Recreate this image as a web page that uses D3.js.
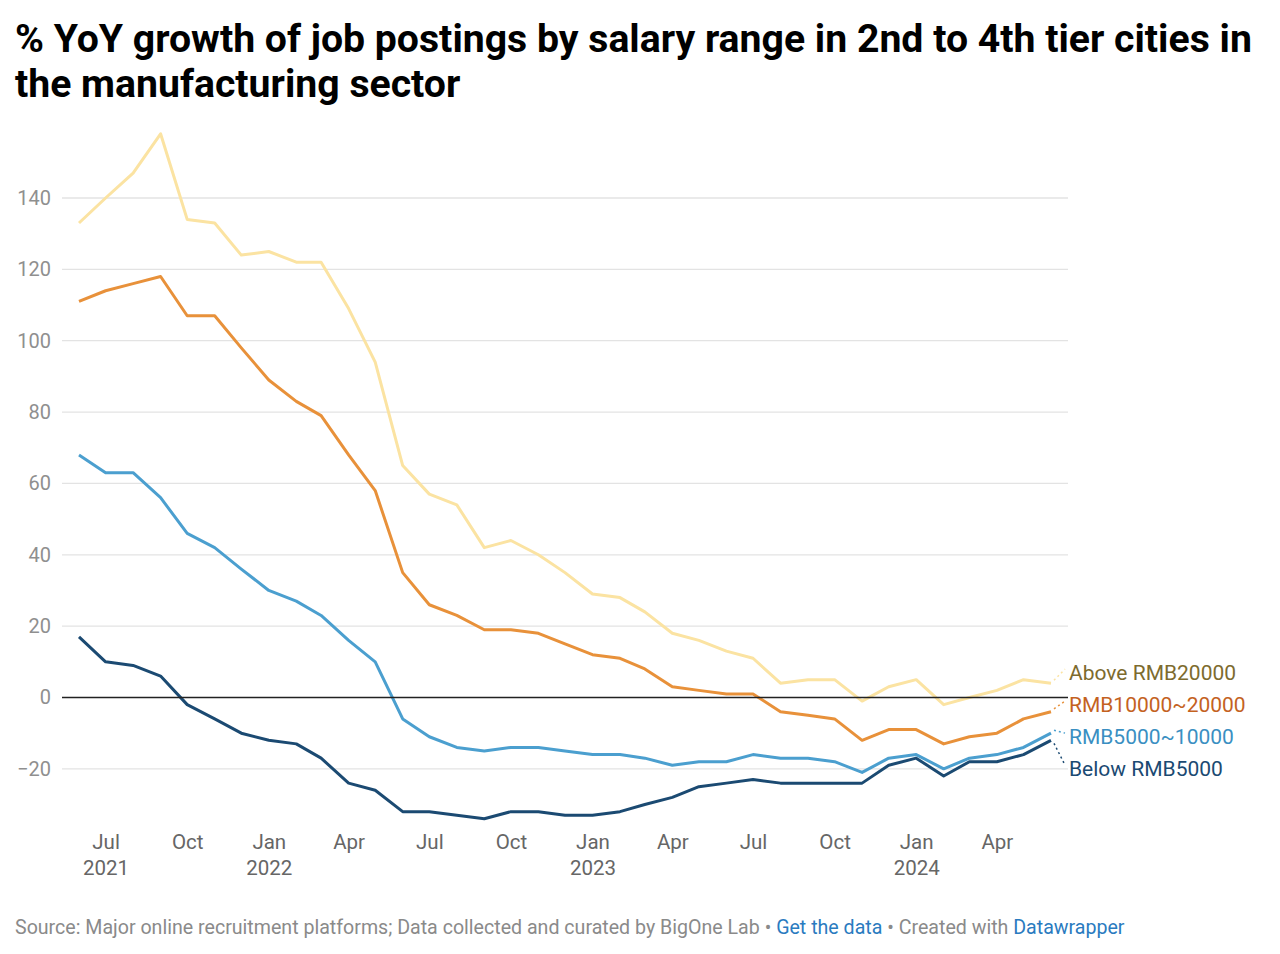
<!DOCTYPE html>
<html>
<head>
<meta charset="utf-8">
<script src="https://cdn.jsdelivr.net/npm/d3@7"></script>
<style>
body{margin:0;background:#fff;font-family:Roboto,"Noto Sans",sans-serif;}
</style>
</head>
<body>
<svg id="chart" width="1280" height="954"></svg>
<script>
// months Jun 2021 .. Jun 2024
var months = [];
for (var m = 0; m < 37; m++) months.push(new Date(2021, 5 + m, 1));

var above20000 = [133,140,147,158,134,133,124,125,122,122,109,94,65,57,54,42,44,40,35,29,28,24,18,16,13,11,4,5,5,-1,3,5,-2,0,2,5,4];
var r10000_20000 = [111,114,116,118,107,107,98,89,83,79,68,58,35,26,23,19,19,18,15,12,11,8,3,2,1,1,-4,-5,-6,-12,-9,-9,-13,-11,-10,-6,-4];
var r5000_10000 = [68,63,63,56,46,42,36,30,27,23,16,10,-6,-11,-14,-15,-14,-14,-15,-16,-16,-17,-19,-18,-18,-16,-17,-17,-18,-21,-17,-16,-20,-17,-16,-14,-10];
var below5000 = [17,10,9,6,-2,-6,-10,-12,-13,-17,-24,-26,-32,-32,-33,-34,-32,-32,-33,-33,-32,-30,-28,-25,-24,-23,-24,-24,-24,-24,-19,-17,-22,-18,-18,-16,-12];

var seriesNames = ["Above RMB20000","RMB10000~20000","RMB5000~10000","Below RMB5000"];
var seriesVals = [above20000, r10000_20000, r5000_10000, below5000];
var lineColors = ["#fbe3a2","#e8913a","#4b9fcf","#1b4a72"];
var labelColors = ["#7d6b2e","#c4621f","#3a8fc2","#1b4a72"];

var yTicks = [-20,0,20,40,60,80,100,120,140];
var xTicks = [new Date(2021,6,1),new Date(2021,9,1),new Date(2022,0,1),new Date(2022,3,1),new Date(2022,6,1),new Date(2022,9,1),
	new Date(2023,0,1),new Date(2023,3,1),new Date(2023,6,1),new Date(2023,9,1),new Date(2024,0,1),new Date(2024,3,1)];

const svg = d3.select("#chart");

// title
var title = svg.append("text")
	.style("font-size","39.2px").style("font-weight","700").style("fill","#000");
title.append("tspan").attr("x",15).attr("y",52).text("% YoY growth of job postings by salary range in 2nd to 4th tier cities in");
title.append("tspan").attr("x",15).attr("y",97).text("the manufacturing sector");

var x = d3.scaleTime()
	.domain([months[0], months[months.length-1]])
	.range([79, 1051]);

var y = d3.scaleLinear()
	.domain([0,140])
	.range([697.5,198]);

var gridLeft = 62, gridRight = 1068;

// grid
svg.append("g").selectAll("line")
	.data(yTicks)
	.enter()
	.append("line")
	.attr("x1",gridLeft).attr("x2",gridRight)
	.attr("y1",function(d){return y(d);}).attr("y2",function(d){return y(d);})
	.attr("stroke",function(d){return d==0?"none":"#e3e3e3";})
	.attr("stroke-width",1.3);

var yAxis = d3.axisLeft(y)
	.tickValues(yTicks)
	.tickSize(0)
	.tickPadding(0);

var yG = svg.append("g")
	.attr("transform","translate(51,0)")
	.call(yAxis);
yG.select(".domain").remove();
yG.selectAll("text")
	.style("font-family","Roboto,sans-serif")
	.style("font-size","20px")
	.style("fill","#8f8f8f")
	.text(function(d){return d<0 ? "\u2212"+Math.abs(d) : d;});

var fmtM = d3.timeFormat("%b");
var xAxis = d3.axisBottom(x)
	.tickValues(xTicks)
	.tickSize(0)
	.tickPadding(0)
	.tickFormat(function(d){return fmtM(d);});

var xG = svg.append("g")
	.attr("transform","translate(0,842)")
	.call(xAxis);
xG.select(".domain").remove();
xG.selectAll("text")
	.style("font-family","Roboto,sans-serif")
	.style("font-size","20.5px")
	.style("fill","#666")
	.attr("y",0)
	.attr("dy","0.35em")
	.each(function(d,i){
		if(d.getMonth()==0 || i==0){
			d3.select(this).append("tspan")
				.attr("x",0).attr("dy","1.27em")
				.text(d.getFullYear());
		}
	});

var line = d3.line()
	.x(function(d,i){return x(months[i]);})
	.y(function(d){return y(d);});

svg.append("g").selectAll("path")
	.data(seriesVals)
	.enter()
	.append("path")
	.attr("d",line)
	.attr("fill","none")
	.attr("stroke",function(d,i){return lineColors[i];})
	.attr("stroke-width",3)
	.attr("stroke-linejoin","round");

// zero line (drawn above the lines)
svg.append("line")
	.attr("x1",gridLeft).attr("x2",gridRight)
	.attr("y1",y(0)).attr("y2",y(0))
	.attr("stroke","#222").attr("stroke-width",1.4);

// labels: simple collision avoidance
var lastIdx = months.length-1;
var labs = seriesVals.map(function(v,i){return {i:i, y0:y(v[lastIdx]), y:y(v[lastIdx])};});
labs.sort(function(a,b){return a.y0-b.y0;});
var gap = 32;
for(var it=0; it<200; it++){
	for(var k=1;k<labs.length;k++){
		var ov = labs[k-1].y + gap - labs[k].y;
		if(ov>0){ labs[k-1].y -= ov/2; labs[k].y += ov/2; }
	}
}
labs.forEach(function(l){
	svg.append("line")
		.attr("x1",x(months[lastIdx])+3).attr("y1",l.y0 + (l.y<l.y0?-3:3))
		.attr("x2",1065).attr("y2",l.y)
		.attr("stroke",lineColors[l.i])
		.attr("stroke-width",1.5)
		.attr("stroke-dasharray","2,3");
	svg.append("text")
		.attr("x",1069).attr("y",l.y+4)
		.attr("dy","0.35em")
		.style("font-size","21px")
		.style("fill",labelColors[l.i])
		.text(seriesNames[l.i]);
});

// footer
var foot = svg.append("text")
	.attr("x",15).attr("y",934)
	.style("font-size","19.6px").style("fill","#8a8a8a");
foot.append("tspan").text("Source: Major online recruitment platforms; Data collected and curated by BigOne Lab \u2022 ");
foot.append("tspan").style("fill","#2a7bbf").text("Get the data");
foot.append("tspan").text(" \u2022 Created with ");
foot.append("tspan").style("fill","#2a7bbf").text("Datawrapper");
</script>
</body>
</html>
